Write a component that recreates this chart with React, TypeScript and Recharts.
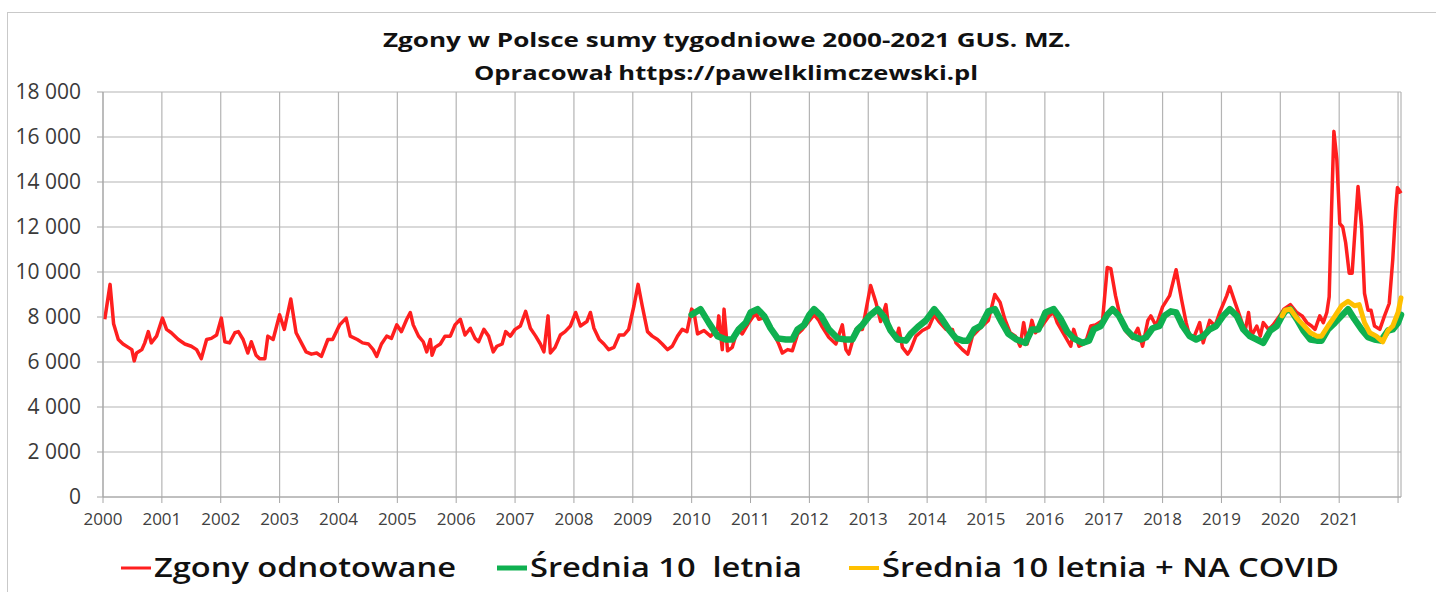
import { LineChart, Line, XAxis, YAxis, CartesianGrid } from 'recharts';

// weekly deaths as [decimal year, value]
const zgonyOdnotowane: [number, number][] = [
    [2000.03, 7900], [2000.12, 9450], [2000.18, 7700], [2000.26, 7000], [2000.34, 6800], [2000.43, 6650],
    [2000.49, 6550], [2000.53, 6050], [2000.57, 6400], [2000.66, 6550], [2000.71, 6850], [2000.77, 7350],
    [2000.82, 6850], [2000.91, 7150], [2001.01, 7950], [2001.08, 7450], [2001.16, 7300], [2001.28, 7000],
    [2001.39, 6800], [2001.5, 6700], [2001.59, 6550], [2001.67, 6150], [2001.76, 7000], [2001.84, 7050],
    [2001.93, 7200], [2002.01, 7950], [2002.07, 6900], [2002.15, 6850], [2002.24, 7300], [2002.3, 7350],
    [2002.38, 7000], [2002.46, 6400], [2002.52, 6900], [2002.6, 6300], [2002.66, 6150], [2002.75, 6150],
    [2002.8, 7150], [2002.89, 7000], [2003.0, 8100], [2003.08, 7450], [2003.19, 8800], [2003.28, 7300],
    [2003.37, 6850], [2003.45, 6450], [2003.54, 6350], [2003.63, 6400], [2003.71, 6250], [2003.82, 7000],
    [2003.9, 7000], [2004.02, 7650], [2004.13, 7950], [2004.2, 7150], [2004.32, 7000], [2004.41, 6850],
    [2004.51, 6800], [2004.59, 6550], [2004.65, 6250], [2004.73, 6800], [2004.82, 7150], [2004.9, 7050],
    [2004.99, 7650], [2005.07, 7350], [2005.16, 7900], [2005.22, 8200], [2005.27, 7650], [2005.36, 7150],
    [2005.44, 6900], [2005.5, 6450], [2005.56, 7000], [2005.59, 6300], [2005.64, 6650], [2005.73, 6800],
    [2005.81, 7150], [2005.9, 7150], [2005.98, 7650], [2006.07, 7900], [2006.15, 7200], [2006.24, 7500],
    [2006.32, 7050], [2006.38, 6900], [2006.47, 7450], [2006.55, 7150], [2006.63, 6450], [2006.69, 6700],
    [2006.78, 6800], [2006.84, 7350], [2006.92, 7150], [2007.0, 7450], [2007.09, 7600], [2007.18, 8250],
    [2007.26, 7500], [2007.35, 7150], [2007.43, 6800], [2007.49, 6450], [2007.56, 8050], [2007.6, 6400],
    [2007.68, 6650], [2007.77, 7200], [2007.85, 7350], [2007.94, 7600], [2008.03, 8200], [2008.11, 7600],
    [2008.22, 7800], [2008.28, 8200], [2008.34, 7500], [2008.43, 7000], [2008.51, 6800], [2008.59, 6550],
    [2008.68, 6650], [2008.77, 7200], [2008.85, 7200], [2008.93, 7450], [2009.02, 8500], [2009.09, 9450],
    [2009.16, 8500], [2009.25, 7350], [2009.33, 7150], [2009.42, 7000], [2009.5, 6800], [2009.59, 6550],
    [2009.67, 6700], [2009.76, 7150], [2009.84, 7450], [2009.92, 7350], [2010.0, 8350], [2010.04, 8200],
    [2010.1, 7250], [2010.21, 7400], [2010.32, 7150], [2010.44, 7450], [2010.46, 8050], [2010.52, 6550],
    [2010.55, 8350], [2010.61, 6500], [2010.69, 6650], [2010.78, 7450], [2010.86, 7250], [2010.97, 7750],
    [2011.09, 8200], [2011.14, 7900], [2011.26, 8000], [2011.37, 7400], [2011.48, 6800], [2011.54, 6400],
    [2011.63, 6550], [2011.71, 6500], [2011.8, 7250], [2011.88, 7450], [2011.99, 7800], [2012.08, 8100],
    [2012.16, 7850], [2012.22, 7550], [2012.33, 7100], [2012.45, 6800], [2012.56, 7650], [2012.62, 6550],
    [2012.67, 6350], [2012.79, 7450], [2012.9, 7450], [2013.04, 9400], [2013.13, 8650], [2013.21, 7800],
    [2013.3, 8550], [2013.35, 7450], [2013.47, 7000], [2013.52, 7500], [2013.58, 6650], [2013.67, 6350],
    [2013.72, 6550], [2013.81, 7150], [2013.92, 7400], [2014.03, 7550], [2014.12, 8100], [2014.2, 7800],
    [2014.32, 7450], [2014.43, 7450], [2014.49, 6850], [2014.6, 6550], [2014.69, 6350], [2014.77, 7150],
    [2014.86, 7400], [2014.94, 7600], [2015.04, 7850], [2015.15, 9000], [2015.24, 8650], [2015.32, 7900],
    [2015.41, 7300], [2015.5, 7150], [2015.58, 6700], [2015.64, 7750], [2015.7, 6800], [2015.78, 7850],
    [2015.84, 7300], [2015.95, 7600], [2016.07, 8050], [2016.15, 8200], [2016.21, 7750], [2016.32, 7250],
    [2016.44, 6700], [2016.49, 7450], [2016.58, 6700], [2016.69, 6850], [2016.78, 7600], [2016.86, 7650],
    [2016.98, 7850], [2017.06, 10200], [2017.12, 10150], [2017.2, 8950], [2017.29, 7900], [2017.38, 7350],
    [2017.49, 7050], [2017.58, 7500], [2017.66, 6700], [2017.75, 7850], [2017.8, 8050], [2017.89, 7600],
    [2018.0, 8450], [2018.12, 8950], [2018.23, 10100], [2018.32, 8800], [2018.4, 7750], [2018.46, 7150],
    [2018.54, 7150], [2018.63, 7750], [2018.69, 6850], [2018.8, 7850], [2018.89, 7600], [2018.97, 8200],
    [2019.09, 8950], [2019.14, 9350], [2019.23, 8650], [2019.31, 8050], [2019.4, 7350], [2019.46, 8200],
    [2019.51, 7150], [2019.6, 7600], [2019.66, 7150], [2019.71, 7750], [2019.8, 7450], [2019.88, 7650],
    [2019.99, 8050], [2020.06, 8350], [2020.17, 8550], [2020.28, 8200], [2020.37, 8050], [2020.45, 7750],
    [2020.53, 7600], [2020.59, 7450], [2020.67, 8050], [2020.73, 7750], [2020.79, 8200], [2020.83, 8900],
    [2020.87, 12750], [2020.91, 16250], [2020.96, 15000], [2021.01, 12150], [2021.06, 12000], [2021.11, 11300],
    [2021.17, 9950], [2021.22, 9950], [2021.28, 12300], [2021.32, 13800], [2021.38, 12000], [2021.43, 9050],
    [2021.49, 8300], [2021.54, 8300], [2021.6, 7600], [2021.69, 7450], [2021.77, 8050], [2021.85, 8600],
    [2021.91, 10550], [2021.96, 12800], [2021.99, 13750], [2022.05, 13500],
];

const srednia10: [number, number][] = [
    [2010.0, 8100], [2010.15, 8350], [2010.29, 7750], [2010.44, 7150], [2010.58, 7000], [2010.69, 7000],
    [2010.8, 7450], [2010.92, 7750], [2011.0, 8200], [2011.12, 8350], [2011.23, 8050], [2011.34, 7500],
    [2011.46, 7050], [2011.6, 7000], [2011.71, 7000], [2011.8, 7450], [2011.91, 7650], [2012.0, 8100],
    [2012.08, 8350], [2012.2, 8050], [2012.33, 7450], [2012.48, 7050], [2012.62, 7000], [2012.73, 7000],
    [2012.82, 7450], [2012.9, 7650], [2013.02, 8050], [2013.16, 8350], [2013.27, 8000], [2013.38, 7400],
    [2013.5, 7000], [2013.64, 6950], [2013.72, 7250], [2013.84, 7550], [2013.98, 7850], [2014.12, 8350],
    [2014.23, 8000], [2014.38, 7400], [2014.49, 7050], [2014.6, 6950], [2014.69, 6950], [2014.8, 7450],
    [2014.91, 7600], [2015.04, 8250], [2015.15, 8350], [2015.27, 7750], [2015.38, 7250], [2015.52, 7000],
    [2015.67, 6850], [2015.78, 7450], [2015.89, 7450], [2016.01, 8200], [2016.15, 8350], [2016.26, 7950],
    [2016.38, 7350], [2016.49, 7050], [2016.64, 6850], [2016.75, 6950], [2016.83, 7450], [2016.95, 7600],
    [2017.06, 8100], [2017.15, 8350], [2017.26, 8050], [2017.38, 7450], [2017.49, 7150], [2017.63, 7000],
    [2017.72, 7100], [2017.83, 7500], [2017.95, 7600], [2018.03, 8050], [2018.14, 8250], [2018.23, 8200],
    [2018.34, 7600], [2018.46, 7150], [2018.57, 7000], [2018.69, 7150], [2018.8, 7450], [2018.91, 7600],
    [2019.03, 8050], [2019.14, 8350], [2019.26, 8050], [2019.37, 7450], [2019.48, 7150], [2019.6, 7000],
    [2019.71, 6850], [2019.83, 7400], [2019.94, 7600], [2020.03, 8050], [2020.08, 8250], [2020.17, 8350],
    [2020.28, 7900], [2020.39, 7400], [2020.51, 7000], [2020.62, 6950], [2020.7, 6950], [2020.81, 7450],
    [2020.93, 7750], [2021.04, 8050], [2021.15, 8350], [2021.26, 7900], [2021.38, 7450], [2021.49, 7100],
    [2021.6, 7000], [2021.71, 6950], [2021.83, 7400], [2021.91, 7450], [2022.0, 7750], [2022.05, 8100],
];

const sredniaCovid: [number, number][] = [
    [2020.03, 8050], [2020.08, 8300], [2020.17, 8350], [2020.28, 7950], [2020.39, 7650], [2020.51, 7300],
    [2020.62, 7150], [2020.7, 7150], [2020.81, 7600], [2020.93, 8050], [2021.04, 8500], [2021.15, 8700],
    [2021.26, 8500], [2021.34, 8550], [2021.43, 7750], [2021.52, 7300], [2021.63, 7150], [2021.74, 6900],
    [2021.83, 7400], [2021.91, 7600], [2022.0, 8200], [2022.05, 8850],
];

const xTicks = [2000, 2001, 2002, 2003, 2004, 2005, 2006, 2007, 2008, 2009, 2010,
    2011, 2012, 2013, 2014, 2015, 2016, 2017, 2018, 2019, 2020, 2021, 2022];
const yTicks = [0, 2000, 4000, 6000, 8000, 10000, 12000, 14000, 16000, 18000];

const titleLines = ['Zgony w Polsce sumy tygodniowe 2000-2021 GUS. MZ.', 'Opracował https://pawelklimczewski.pl'];
const legendLabels = ['Zgony odnotowane', 'Średnia 10  letnia', 'Średnia 10 letnia + NA COVID'];

const RED = '#ff1f1f';
const GREEN = '#0fb050';
const YELLOW = '#ffc000';

// merge the three series on one numeric x axis
const rows = new Map<number, any>();
const addSeries = (series: [number, number][], key: string) => {
    for (const [x, y] of series) {
        const row = rows.get(x) ?? { x };
        row[key] = y;
        rows.set(x, row);
    }
};
addSeries(zgonyOdnotowane, 'zgony');
addSeries(srednia10, 'srednia');
addSeries(sredniaCovid, 'covid');
const data = [...rows.values()].sort((a, b) => a.x - b.x);

const fmtThousands = (v: number) =>
    v >= 1000 ? `${Math.floor(v / 1000)} ${String(v % 1000).padStart(3, '0')}` : String(v);

const FONT = '"Open Sans", Calibri, sans-serif';

export default function App() {
    const legend = [
        { label: legendLabels[0], color: RED, x: 121, w: 3, len: 302 },
        { label: legendLabels[1], color: GREEN, x: 497, w: 5, len: 272 },
        { label: legendLabels[2], color: YELLOW, x: 849, w: 4, len: 457 },
    ];
    return (
        <div style={{ position: 'absolute', left: 0, top: 0, width: 1436, height: 592, overflow: 'hidden', background: '#fff' }}>
            <div style={{ position: 'absolute', left: 7, top: 12, width: 1500, height: 700, border: '1.5px solid #c9c9c9' }} />
            <div style={{ position: 'absolute', left: 0, top: 0 }}>
                <LineChart width={1436} height={592} data={data} margin={{ top: 92, right: 35, bottom: 65, left: 3 }}>
                    <CartesianGrid stroke="#b4b4b4" strokeWidth={1.2} />
                    <XAxis
                        dataKey="x"
                        type="number"
                        domain={[2000, 2022.05]}
                        ticks={xTicks}
                        interval={0}
                        tickFormatter={(v: number) => (v === 2022 ? '' : String(v))}
                        tick={{ fill: '#404040', fontSize: 17, fontFamily: FONT }}
                        stroke="#a6a6a6"
                        tickSize={6}
                        tickMargin={10}
                        height={30}
                    />
                    <YAxis
                        type="number"
                        domain={[0, 18000]}
                        ticks={yTicks}
                        interval={0}
                        tickFormatter={fmtThousands}
                        tick={{ fill: '#3a3a3a', fontSize: 21, fontFamily: FONT }}
                        stroke="#a6a6a6"
                        tickSize={6}
                        tickMargin={16}
                        width={100}
                    />
                    <Line dataKey="zgony" stroke={RED} strokeWidth={3.5} dot={false} connectNulls
                        isAnimationActive={false} strokeLinejoin="round" />
                    <Line dataKey="srednia" stroke={GREEN} strokeWidth={6.5} dot={false} connectNulls
                        isAnimationActive={false} strokeLinejoin="round" strokeLinecap="round" />
                    <Line dataKey="covid" stroke={YELLOW} strokeWidth={5} dot={false} connectNulls
                        isAnimationActive={false} strokeLinejoin="round" strokeLinecap="round" />
                </LineChart>
            </div>
            <svg width={1436} height={592} style={{ position: 'absolute', left: 0, top: 0, pointerEvents: 'none' }}>
                <text x={383} y={47} fontFamily={FONT} fontWeight={700} fontSize={20} fill="#111"
                    textLength={688} lengthAdjust="spacingAndGlyphs">{titleLines[0]}</text>
                <text x={474} y={80} fontFamily={FONT} fontWeight={700} fontSize={20} fill="#111"
                    textLength={504} lengthAdjust="spacingAndGlyphs">{titleLines[1]}</text>
                {legend.map((it) => (
                    <g key={it.label}>
                        <line x1={it.x} x2={it.x + 30} y1={568} y2={568} stroke={it.color} strokeWidth={it.w} />
                        <text x={it.x + 33} y={577} fontFamily={FONT} fontWeight={600} fontSize={27} fill="#111"
                            style={{ whiteSpace: 'pre' }} textLength={it.len} lengthAdjust="spacingAndGlyphs">{it.label}</text>
                    </g>
                ))}
            </svg>
        </div>
    );
}
